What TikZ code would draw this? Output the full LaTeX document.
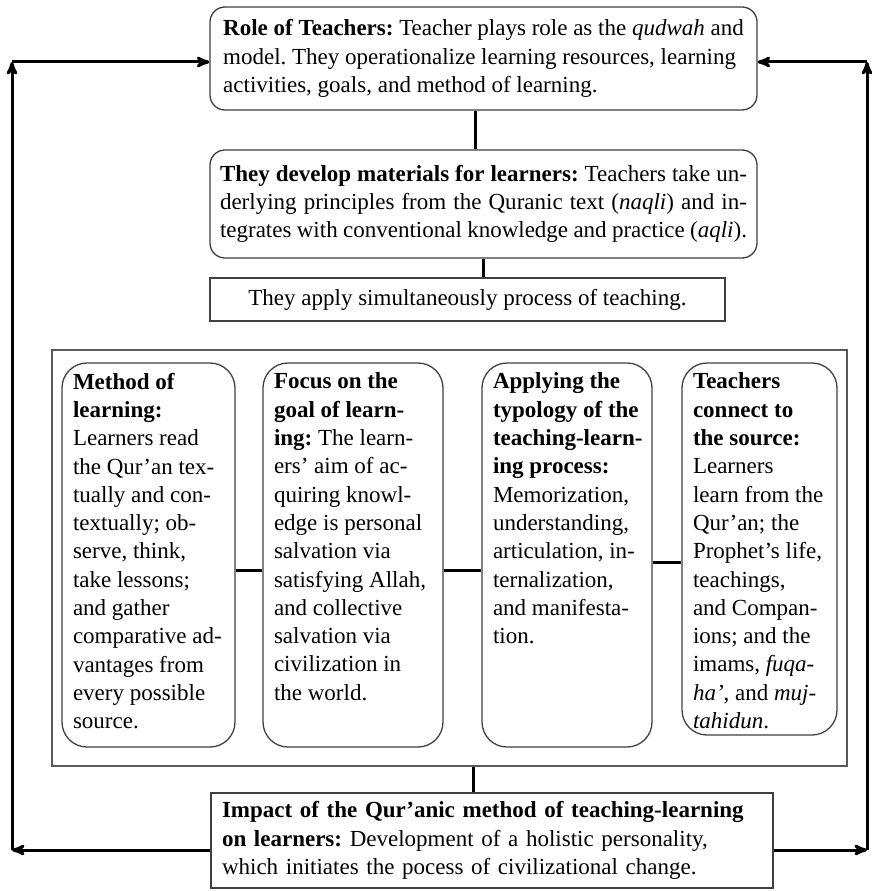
\documentclass[tikz,border=0pt]{standalone}
\usepackage{fontspec}
\setmainfont{Liberation Serif}
\usetikzlibrary{arrows,positioning,calc}

\newcommand{\coltext}[3]{\parbox[t][#2][t]{#1}{\raggedright\hyphenpenalty=10000 \exhyphenpenalty=10000 #3}}

\begin{document}
\begin{tikzpicture}[x=1pt, y=-1pt, >=stealth', semithick,
 every node/.style={font=\fontsize{23}{28.3}\selectfont\frenchspacing},
 box/.style={draw=black!75, line width=1.3pt, fill=white},
 roundbox/.style={box, rounded corners=15pt, inner xsep=10pt},
 colbox/.style={box, rounded corners=25pt, inner xsep=11pt, inner ysep=10pt},
 link/.style={line width=3pt},
 cycleline/.style={->, line width=3pt}]
\useasboundingbox (0,0) rectangle (871,891);

\node[roundbox, minimum width=547pt, minimum height=103pt, align=left] (role) at (483.5,58.5)
 {\textbf{Role of Teachers:} Teacher plays role as the \textit{qudwah} and\\
  model. They operationalize learning resources, learning\\
  activities, goals, and method of learning.};
\node[roundbox, minimum height=108pt, text width=527pt, align=justify] (develop) at (483.5,204)
 {\textbf{They develop materials for learners:} Teachers take un-\linebreak
  derlying principles from the Quranic text (\textit{naqli}) and in-\linebreak
  tegrates with conventional knowledge and practice (\textit{aqli}).};
\node[box, minimum width=515pt, minimum height=43pt] (apply) at (467.5,299.5)
 {They apply simultaneously process of teaching.};

\node[draw=black!65, line width=1.5pt, minimum width=795pt, minimum height=416pt] (frame) at (449.5,558) {};
\node[colbox] (col1) at (148.5,555) {\coltext{151pt}{364pt}{%
 \textbf{Method of}\\ \textbf{learning:}\\ Learners read\\ the Qur’an tex-\\ tually and con-\\
 textually; ob-\\ serve, think,\\ take lessons;\\ and gather\\ comparative ad-\\
 vantages from\\ every possible\\ source.}};
\node[colbox] (col2) at (353,555) {\coltext{158pt}{364pt}{%
 \textbf{Focus on the}\\ \textbf{goal of learn-}\\ \textbf{ing:} The learn-\\ ers’ aim of ac-\\
 quiring knowl-\\ edge is personal\\ salvation via\\ satisfying Allah,\\ and collective\\
 salvation via\\ civilization in\\ the world.}};
\node[colbox] (col3) at (567,555) {\coltext{148pt}{364pt}{%
 \textbf{Applying the}\\ \textbf{typology of the}\\ \textbf{teaching-learn-}\\ \textbf{ing process:}\\
 Memorization,\\ understanding,\\ articulation, in-\\ ternalization,\\ and manifesta-\\ tion.}};
\node[colbox] (col4) at (759.5,549) {\coltext{133pt}{352pt}{%
 \textbf{Teachers}\\ \textbf{connect to}\\ \textbf{the source:}\\ Learners\\ learn from the\\
 Qur’an; the\\ Prophet’s life,\\ teachings,\\ and Compan-\\ ions; and the\\
 imams, \textit{fuqa-}\\ \textit{ha’}, and \textit{muj-}\\ \textit{tahidun}.}};

\node[box, inner xsep=11pt, minimum height=95pt, text width=540pt, align=left] (impact) at (492,840.5)
 {\textbf{Impact of the Qur’anic method of teaching-learning}\\
  \textbf{on learners:} Development of a holistic personality,\\
  which initiates the pocess of civilizational change.};

% links between the boxes
\draw[link] ([xshift=-8pt]role.south) -- ([xshift=-8pt]develop.north);
\draw[link] (develop.south) -- (develop.south |- apply.north);
\draw[link] ([yshift=-15pt]col1.east) -- ([yshift=-15pt]col1.east -| col2.west);
\draw[link] ([yshift=-15pt]col2.east) -- ([yshift=-15pt]col2.east -| col3.west);
\draw[link] ([yshift=-7pt]col3.east) -- ([yshift=-7pt]col3.east -| col4.west);
\draw[link] ([xshift=-19pt]impact.north) -- ([xshift=-19pt]impact.north |- frame.south);

% feedback loop
\coordinate (cTL) at (12,62);
\coordinate (cBL) at (12,850);
\coordinate (cTR) at (867,62);
\coordinate (cBR) at (867,850);
\draw[cycleline] (impact.west |- cBL) -- (cBL);
\draw[cycleline] (cBL) -- (cTL);
\draw[cycleline] (cTL) -- (cTL -| role.west);
\draw[cycleline] (impact.east |- cBR) -- (cBR);
\draw[cycleline] (cBR) -- (cTR);
\draw[cycleline] (cTR) -- (cTR -| role.east);
\end{tikzpicture}
\end{document}
